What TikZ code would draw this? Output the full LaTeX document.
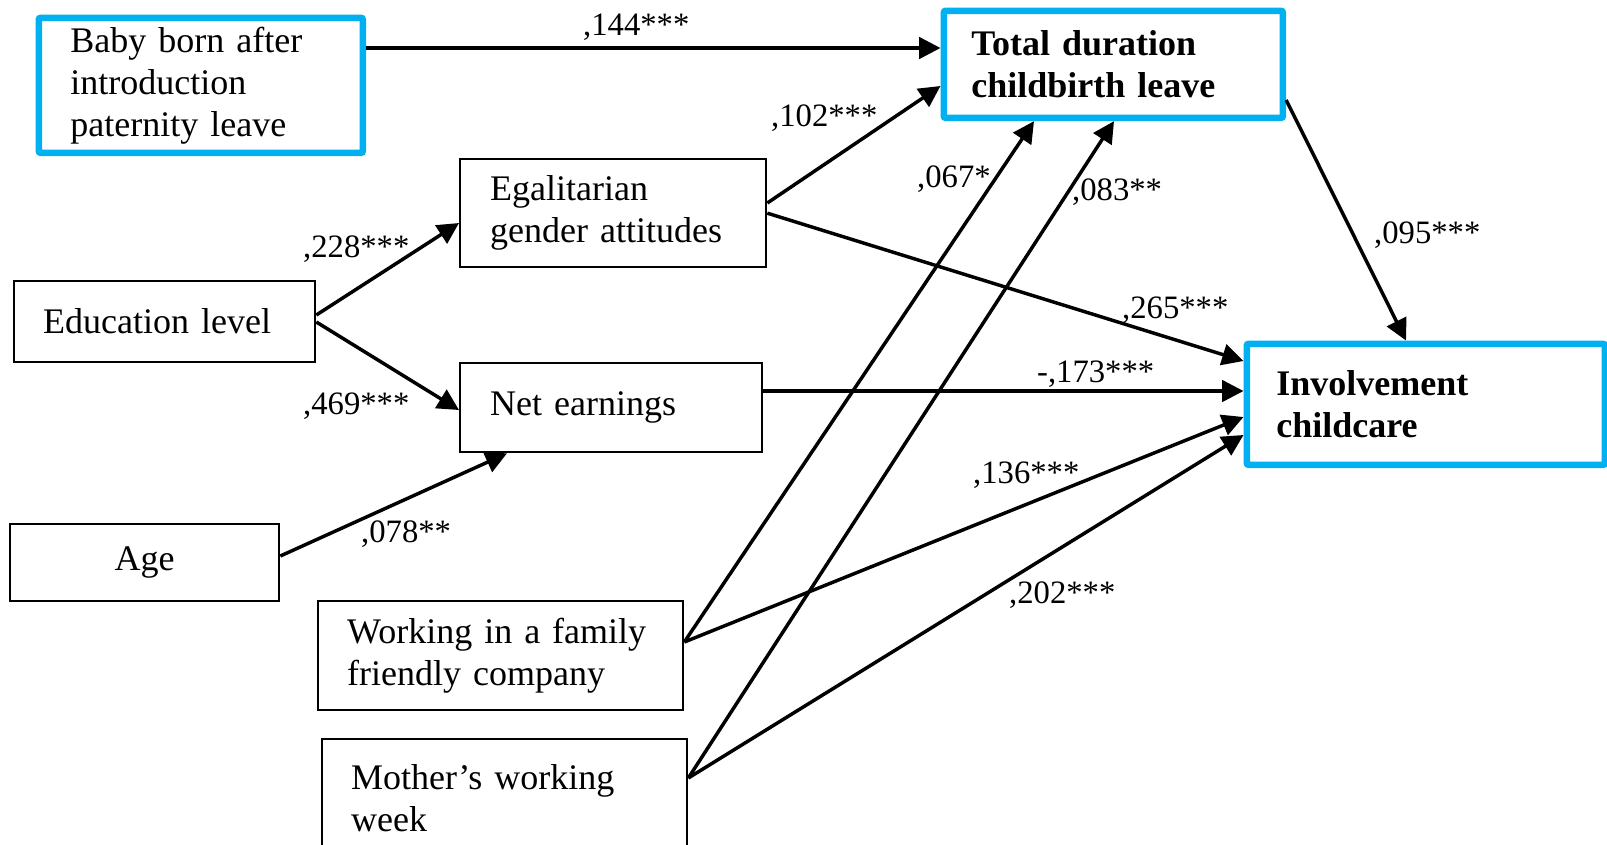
\documentclass[tikz,border=0pt]{standalone}
\usepackage{fontspec}
\setmainfont{Liberation Serif}
\usetikzlibrary{arrows.meta}

\definecolor{frameblue}{RGB}{0,176,240}
\newcommand{\boxtxt}{\fontsize{27pt}{31.5pt}\selectfont}
\newcommand{\coeftxt}{\fontsize{24.5pt}{28pt}\selectfont}

\tikzset{every picture/.style={line width=1.75pt}}
\tikzset{
  varbox/.style={draw, rectangle, anchor=north west, align=left, inner ysep=0pt, font=\boxtxt},
  keybox/.style={varbox, draw=frameblue, line width=5pt, rounded corners=1.5pt},
  path arrow/.style={line width=2.6pt, -{Triangle[length=16pt,width=16pt]}},
  coef/.style={anchor=base west, inner sep=0pt, font=\coeftxt},
}

\begin{document}
\begin{tikzpicture}[x=0.75pt,y=0.75pt,yscale=-1,xscale=1]
\path [use as bounding box, clip] (0,0) rectangle (1607,844);

%Shape: Rectangle [baby]
\node [keybox, text width=195.75pt, inner xsep=23.625pt, minimum height=101.25pt] (baby) at (35.5,14.5) {Baby born after\\introduction\\paternity leave};
%Shape: Rectangle [total]
\node [keybox, font=\boxtxt\bfseries, text width=213pt, inner xsep=20.625pt, minimum height=80.25pt] (total) at (940.5,7.5) {Total duration\\childbirth leave};
%Shape: Rectangle [inv]
\node [keybox, font=\boxtxt\bfseries, text width=224.25pt, inner xsep=22.125pt, minimum height=90.75pt] (inv) at (1243.5,340.5) {Involvement\\childcare};
%Shape: Rectangle [egal]
\node [varbox, text width=184.5pt, inner xsep=22.5pt, minimum height=81pt] (egal) at (459,158) {Egalitarian\\gender attitudes};
%Shape: Rectangle [edu]
\node [varbox, text width=182.25pt, inner xsep=21.75pt, minimum height=60.75pt] (edu) at (13,280) {Education level};
%Shape: Rectangle [net]
\node [varbox, text width=181.5pt, inner xsep=22.5pt, minimum height=66.75pt] (net) at (459,362) {Net earnings};
%Shape: Rectangle [age]
\node [varbox, align=center, text width=171.75pt, inner xsep=15pt, minimum height=57.75pt] (age) at (9,523) {Age};
%Shape: Rectangle [work]
\node [varbox, text width=230.25pt, inner xsep=21.75pt, minimum height=81.75pt] (work) at (317,600) {Working in a family\\friendly company};
%Shape: Rectangle [moth]
\node [varbox, text width=230.25pt, inner xsep=21.75pt, minimum height=88.5pt] (moth) at (321,738) {Mother’s working\\week};

%Straight Lines
\draw [path arrow] (baby.east |- 0,48) -- (total.west |- 0,48);
\draw [path arrow] (egal.east |- 0,203) -- (total.west |- 0,86);
\draw [path arrow] (egal.east) -- (inv.west |- 0,361);
\draw [path arrow] (edu.east |- 0,315) -- (egal.west |- 0,223);
\draw [path arrow] (edu.east |- 0,322) -- (net.west |- 0,410);
\draw [path arrow] (net.east |- 0,391) -- (inv.west |- 0,391);
\draw [path arrow] (age.east |- 0,556) -- (net.south -| 507,0);
\draw [path arrow] (work.east |- 0,642) -- (total.south -| 1034,0);
\draw [path arrow] (moth.east |- 0,778) -- (total.south -| 1114,0);
\draw [path arrow] (work.east |- 0,642) -- (inv.west |- 0,417);
\draw [path arrow] (moth.east |- 0,778) -- (inv.west |- 0,435);
\draw [path arrow] (total.east |- 0,100) -- (inv.north -| 1406,0);

% Text Node
\node [coef] (c144) at (582,35) {,144***};
\node [coef] (c102) at (770,126) {,102***};
\node [coef] (c265) at (1121,318) {,265***};
\node [coef] (c228) at (302,257) {,228***};
\node [coef] (c469) at (302,414) {,469***};
\node [coef] (c173) at (1036,382) {-,173***};
\node [coef] (c078) at (360,542) {,078**};
\node [coef] (c067) at (916,187) {,067*};
\node [coef] (c083) at (1071,200) {,083**};
\node [coef] (c136) at (972,483) {,136***};
\node [coef] (c202) at (1008,603) {,202***};
\node [coef] (c095) at (1373,243) {,095***};

\end{tikzpicture}
\end{document}
